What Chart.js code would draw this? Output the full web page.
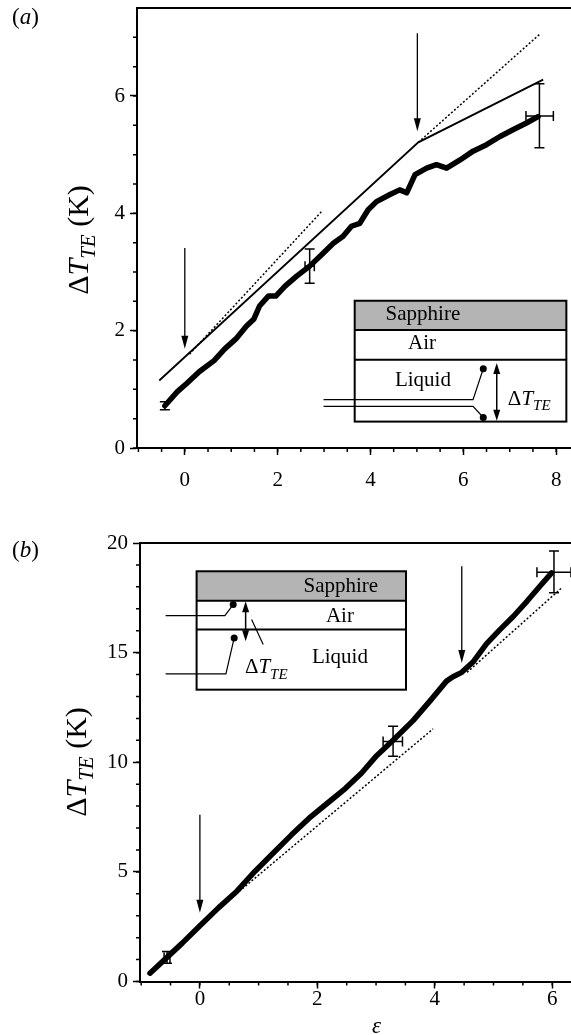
<!DOCTYPE html>
<html>
<head>
<meta charset="utf-8">
<script src="https://cdn.jsdelivr.net/npm/chart.js@4.4.1/dist/chart.umd.min.js"></script>
<style>
  html, body { margin: 0; padding: 0; background: #fff; }
  #wrap { position: relative; width: 571px; height: 1035px; overflow: hidden; }
  canvas { position: absolute; left: 0; }
  #chartA { top: 0; }
  #chartB { top: 500px; }
</style>
</head>
<body>
<div id="wrap">
  <canvas id="chartA" width="571" height="500"></canvas>
  <canvas id="chartB" width="571" height="535"></canvas>
</div>
<script>
const SERIF = '"Liberation Serif", "Times New Roman", serif';

// ---- panel (a) ----
const aEps = [-0.43, -0.16, 0.04, 0.31, 0.63, 0.86, 1.10, 1.33, 1.49, 1.61, 1.80, 1.96, 2.16, 2.41, 2.69, 2.98,
  3.20, 3.41, 3.59, 3.77, 3.95, 4.13, 4.42, 4.63, 4.78, 4.96, 5.21, 5.42, 5.64, 5.93, 6.21, 6.50, 6.79, 7.08, 7.36, 7.61];
const aDt = [0.72, 0.96, 1.10, 1.30, 1.49, 1.69, 1.86, 2.08, 2.20, 2.42, 2.59, 2.59, 2.76, 2.93, 3.10, 3.32,
  3.49, 3.61, 3.78, 3.83, 4.06, 4.20, 4.32, 4.40, 4.35, 4.66, 4.77, 4.83, 4.77, 4.91, 5.06, 5.17, 5.31, 5.43, 5.54, 5.65];
const aModelEps = [-0.55, 5.03, 7.72];
const aModelDt = [1.15, 5.21, 6.28];
const aFit1Eps = [0.1, 2.97];
const aFit1Dt = [1.6, 4.05];
const aFit2Eps = [5.03, 7.67];
const aFit2Dt = [5.21, 7.07];
const aArrowEps = [0, 5.01];
const aArrowTop = [3.41, 7.07];
const aArrowTip = [1.69, 5.40];
const aErrEps = [-0.43, 2.69, 7.64];
const aErrDt = [0.72, 3.10, 5.66];
const aErrDtLo = [0.65, 2.81, 5.12];
const aErrDtHi = [0.79, 3.39, 6.21];
const aErrEpsLo = [-0.43, 2.59, 7.35];
const aErrEpsHi = [-0.43, 2.79, 7.94];
const aXTicks = [0, 2, 4, 6, 8];
const aYTicks = [0, 2, 4, 6];

// ---- panel (b) ----
const bEps = [-0.85, -0.56, -0.30, 0, 0.32, 0.63, 0.94, 1.25, 1.56, 1.86, 2.17, 2.48, 2.75, 3.01, 3.29, 3.63,
  3.92, 4.20, 4.31, 4.46, 4.66, 4.88, 5.11, 5.34, 5.57, 5.79, 5.99];
const bDt = [0.38, 1.10, 1.75, 2.54, 3.37, 4.12, 5.03, 5.86, 6.69, 7.45, 8.13, 8.81, 9.50, 10.30, 11.00, 11.90,
  12.80, 13.70, 13.90, 14.10, 14.60, 15.40, 16.05, 16.66, 17.34, 18.03, 18.64];
const bFit1Eps = [0.62, 3.97];
const bFit1Dt = [4.0, 11.52];
const bFit2Eps = [4.55, 6.16];
const bFit2Dt = [14.1, 17.95];
const bArrowEps = [0, 4.46];
const bArrowTop = [7.6, 18.94];
const bArrowTip = [3.14, 14.53];
const bErrEps = [-0.56, 3.29, 6.03];
const bErrDt = [1.10, 10.95, 18.67];
const bErrDtLo = [0.83, 10.27, 17.73];
const bErrDtHi = [1.37, 11.64, 19.63];
const bErrEpsLo = [-0.61, 3.12, 5.74];
const bErrEpsHi = [-0.51, 3.45, 6.32];
const bXTicks = [0, 2, 4, 6];
const bYTicks = [0, 5, 10, 15, 20];

const pts = (xs, ys) => xs.map((x, i) => ({ x, y: ys[i] }));

const dtParts = (size, sub) => [
  { t: "Δ", font: `${size}px ${SERIF}` },
  { t: "T", font: `italic ${size}px ${SERIF}` },
  { t: "TE", font: `italic ${sub}px ${SERIF}`, dy: sub * 0.35 }
];

function richWidth(ctx, parts) {
  let w = 0;
  parts.forEach(p => { ctx.font = p.font; w += ctx.measureText(p.t).width; });
  return w;
}
function drawRich(ctx, parts, x, y) {
  parts.forEach(p => {
    ctx.font = p.font;
    ctx.fillText(p.t, x, y + (p.dy || 0));
    x += ctx.measureText(p.t).width;
  });
}

function arrowHead(ctx, x, y, dir, len, half) {
  ctx.beginPath();
  ctx.moveTo(x, y);
  ctx.lineTo(x - half, y - dir * len);
  ctx.lineTo(x + half, y - dir * len);
  ctx.closePath();
  ctx.fill();
}

function drawInset(ctx, X, Y, s) {
  const l = X(s.box[0]), r = X(s.box[1]), t = Y(s.box[2]), b = Y(s.box[3]);
  const sb = Y(s.sapphireBottom), ab = Y(s.airBottom);
  ctx.fillStyle = "#fff";
  ctx.fillRect(l, t, r - l, b - t);
  ctx.fillStyle = "#b4b4b4";
  ctx.fillRect(l, t, r - l, sb - t);
  ctx.strokeStyle = "#000";
  ctx.lineWidth = 2;
  ctx.strokeRect(l, t, r - l, b - t);
  ctx.beginPath();
  ctx.moveTo(l, sb); ctx.lineTo(r, sb);
  ctx.moveTo(l, ab); ctx.lineTo(r, ab);
  ctx.stroke();
  // thermocouple wires
  ctx.lineWidth = 1.2;
  ctx.fillStyle = "#000";
  s.wires.forEach(w => {
    ctx.beginPath();
    ctx.moveTo(X(w[0][0]), Y(w[0][1]));
    for (let k = 1; k < w.length; k++) ctx.lineTo(X(w[k][0]), Y(w[k][1]));
    ctx.stroke();
    const end = w[w.length - 1];
    ctx.beginPath();
    ctx.arc(X(end[0]), Y(end[1]), 3.5, 0, Math.PI * 2);
    ctx.fill();
  });
  if (s.leader) {
    ctx.beginPath();
    ctx.moveTo(X(s.leader[0][0]), Y(s.leader[0][1]));
    ctx.lineTo(X(s.leader[1][0]), Y(s.leader[1][1]));
    ctx.stroke();
  }
  // double arrow
  const ax = X(s.dbl[0]), a0 = Y(s.dbl[1]), a1 = Y(s.dbl[2]);
  ctx.lineWidth = 1.5;
  ctx.beginPath(); ctx.moveTo(ax, a0 + 8); ctx.lineTo(ax, a1 - 8); ctx.stroke();
  arrowHead(ctx, ax, a0, -1, 11, 3.5);
  arrowHead(ctx, ax, a1, 1, 11, 3.5);
  // labels
  ctx.fillStyle = "#000";
  ctx.textBaseline = "middle";
  ctx.textAlign = "center";
  ctx.font = `21px ${SERIF}`;
  s.labels.forEach(lb => ctx.fillText(lb[0], X(lb[1]), Y(lb[2])));
  ctx.textAlign = "left";
  ctx.textBaseline = "alphabetic";
  drawRich(ctx, dtParts(21, 15), X(s.dtLabel[0]), Y(s.dtLabel[1]) + 7);
}

const decor = {
  id: "decor",
  afterDraw(chart, args, o) {
    const { ctx, chartArea: a, scales: { x, y } } = chart;
    const X = v => x.getPixelForValue(v), Y = v => y.getPixelForValue(v);
    ctx.save();
    ctx.strokeStyle = "#000";
    ctx.fillStyle = "#000";
    // top frame line
    ctx.lineWidth = 2;
    ctx.beginPath(); ctx.moveTo(a.left - 1, a.top); ctx.lineTo(a.right, a.top); ctx.stroke();
    // minor ticks
    ctx.lineWidth = 1.5;
    ctx.beginPath();
    for (let v = o.minorX[0]; v <= o.minorX[1] + 1e-9; v += o.minorX[2]) {
      const p = X(v);
      if (p > a.left + 1 && p <= a.right) { ctx.moveTo(p, a.bottom); ctx.lineTo(p, a.bottom + 4); }
    }
    for (let v = o.minorY[0]; v <= o.minorY[1] + 1e-9; v += o.minorY[2]) {
      const p = Y(v);
      if (p >= a.top + 1) { ctx.moveTo(a.left - 4, p); ctx.lineTo(a.left, p); }
    }
    ctx.stroke();
    // arrows
    ctx.lineWidth = 1.3;
    o.arrows.eps.forEach((e, i) => {
      const px = X(e), y0 = Y(o.arrows.top[i]), y1 = Y(o.arrows.tip[i]);
      ctx.beginPath(); ctx.moveTo(px, y0); ctx.lineTo(px, y1 - 10); ctx.stroke();
      arrowHead(ctx, px, y1, 1, 13, 3.5);
    });
    // error bars
    ctx.lineWidth = 1.5;
    const e = o.err;
    e.eps.forEach((ev, i) => {
      const px = X(ev), py = Y(e.dt[i]);
      const lo = Y(e.dtLo[i]), hi = Y(e.dtHi[i]);
      const xl = X(e.epsLo[i]), xh = X(e.epsHi[i]);
      ctx.beginPath();
      ctx.moveTo(px, lo); ctx.lineTo(px, hi);
      ctx.moveTo(px - 5, lo); ctx.lineTo(px + 5, lo);
      ctx.moveTo(px - 5, hi); ctx.lineTo(px + 5, hi);
      if (xh - xl > 1) {
        ctx.moveTo(xl, py); ctx.lineTo(xh, py);
        ctx.moveTo(xl, py - 5); ctx.lineTo(xl, py + 5);
        ctx.moveTo(xh, py - 5); ctx.lineTo(xh, py + 5);
      }
      ctx.stroke();
    });
    drawInset(ctx, X, Y, o.inset);
    // y-axis title
    ctx.fillStyle = "#000";
    const parts = dtParts(30, 21).concat([{ t: " (K)", font: `30px ${SERIF}` }]);
    const w = richWidth(ctx, parts);
    ctx.save();
    ctx.translate(o.yTitle[0], o.yTitle[1]);
    ctx.rotate(-Math.PI / 2);
    ctx.textAlign = "left";
    ctx.textBaseline = "alphabetic";
    drawRich(ctx, parts, -w / 2, 0);
    ctx.restore();
    // panel letter
    ctx.textAlign = "left";
    ctx.textBaseline = "alphabetic";
    drawRich(ctx, [
      { t: "(", font: `23px ${SERIF}` },
      { t: o.letter[0], font: `italic 23px ${SERIF}` },
      { t: ")", font: `23px ${SERIF}` }
    ], 12, o.letter[1]);
    // x-axis title
    if (o.xTitle) {
      ctx.font = `italic 23px ${SERIF}`;
      ctx.textAlign = "center";
      ctx.textBaseline = "middle";
      ctx.fillText(o.xTitle[0], o.xTitle[1], o.xTitle[2]);
    }
    ctx.restore();
  }
};

function axis(min, max, ticks, size, pad) {
  return {
    type: "linear", min, max,
    afterBuildTicks: s => { s.ticks = ticks.map(v => ({ value: v })); },
    afterFit: s => {
      if (s.isHorizontal()) s.height = size; else s.width = size;
      s.paddingTop = 0; s.paddingBottom = 0; s.paddingLeft = 0; s.paddingRight = 0;
    },
    ticks: { font: { family: SERIF, size: 21 }, color: "#000", padding: pad, maxRotation: 0, autoSkip: false },
    grid: { drawOnChartArea: false, tickLength: 7, tickWidth: 1.5, tickColor: "#000" },
    border: { color: "#000", width: 2 }
  };
}

function panel(id, c) {
  return new Chart(document.getElementById(id), {
    type: "scatter",
    data: { datasets: c.datasets },
    options: {
      responsive: false,
      animation: false,
      events: [],
      layout: { autoPadding: false, padding: { top: c.top, left: 0, right: 0, bottom: 0 } },
      plugins: { legend: { display: false }, tooltip: { enabled: false }, decor: c.decor },
      scales: {
        x: axis(c.xRange[0], c.xRange[1], c.xTicks, c.xSize, c.xPad),
        y: axis(c.yRange[0], c.yRange[1], c.yTicks, c.ySize, 5)
      }
    },
    plugins: [decor]
  });
}

const curve = data => ({ data, showLine: true, borderColor: "#000", borderWidth: 5.5, pointRadius: 0,
  borderJoinStyle: "round", borderCapStyle: "round" });
const solid = data => ({ data, showLine: true, borderColor: "#000", borderWidth: 1.8, pointRadius: 0 });
const dotted = data => ({ data, showLine: true, borderColor: "#000", borderWidth: 1.5, borderDash: [2, 2], pointRadius: 0 });

panel("chartA", {
  top: 8,
  xRange: [-1.03, 8.32], yRange: [0, 7.5],
  xTicks: aXTicks, yTicks: aYTicks,
  xSize: 52, ySize: 137, xPad: 13,
  datasets: [
    curve(pts(aEps, aDt)),
    solid(pts(aModelEps, aModelDt)),
    dotted(pts(aFit1Eps, aFit1Dt)),
    dotted(pts(aFit2Eps, aFit2Dt))
  ],
  decor: {
    minorX: [-1, 8.5, 0.5], minorY: [0, 7.5, 0.5],
    arrows: { eps: aArrowEps, top: aArrowTop, tip: aArrowTip },
    err: { eps: aErrEps, dt: aErrDt, dtLo: aErrDtLo, dtHi: aErrDtHi, epsLo: aErrEpsLo, epsHi: aErrEpsHi },
    inset: {
      box: [3.66, 8.22, 2.51, 0.45], sapphireBottom: 2.01, airBottom: 1.505,
      wires: [
        [[2.99, 0.823], [6.21, 0.823], [6.43, 1.35]],
        [[2.99, 0.709], [6.21, 0.709], [6.43, 0.52]]
      ],
      dbl: [6.72, 1.45, 0.465],
      labels: [["Sapphire", 5.13, 2.27], ["Air", 5.11, 1.78], ["Liquid", 5.13, 1.15]],
      dtLabel: [6.96, 0.86]
    },
    yTitle: [88, 240],
    letter: ["a", 24]
  }
});

panel("chartB", {
  top: 43,
  xRange: [-1.02, 6.32], yRange: [0, 20],
  xTicks: bXTicks, yTicks: bYTicks,
  xSize: 53.5, ySize: 140, xPad: -2,
  datasets: [
    curve(pts(bEps, bDt)),
    dotted(pts(bFit1Eps, bFit1Dt)),
    dotted(pts(bFit2Eps, bFit2Dt))
  ],
  decor: {
    minorX: [-1, 6.5, 0.5], minorY: [0, 20, 1],
    arrows: { eps: bArrowEps, top: bArrowTop, tip: bArrowTip },
    err: { eps: bErrEps, dt: bErrDt, dtLo: bErrDtLo, dtHi: bErrDtHi, epsLo: bErrEpsLo, epsHi: bErrEpsHi },
    inset: {
      box: [-0.056, 3.51, 18.71, 13.31], sapphireBottom: 17.37, airBottom: 16.05,
      wires: [
        [[-0.584, 16.69], [0.426, 16.69], [0.567, 17.19]],
        [[-0.584, 14.03], [0.443, 14.03], [0.584, 15.67]]
      ],
      leader: [[0.881, 16.51], [1.078, 15.37]],
      dbl: [0.779, 17.34, 15.52],
      labels: [["Sapphire", 2.40, 18.03], ["Air", 2.385, 16.63], ["Liquid", 2.385, 14.76]],
      dtLabel: [0.767, 14.37]
    },
    yTitle: [86, 262],
    letter: ["b", 57],
    xTitle: ["ε", 376.5, 527]
  }
});
</script>
</body>
</html>
